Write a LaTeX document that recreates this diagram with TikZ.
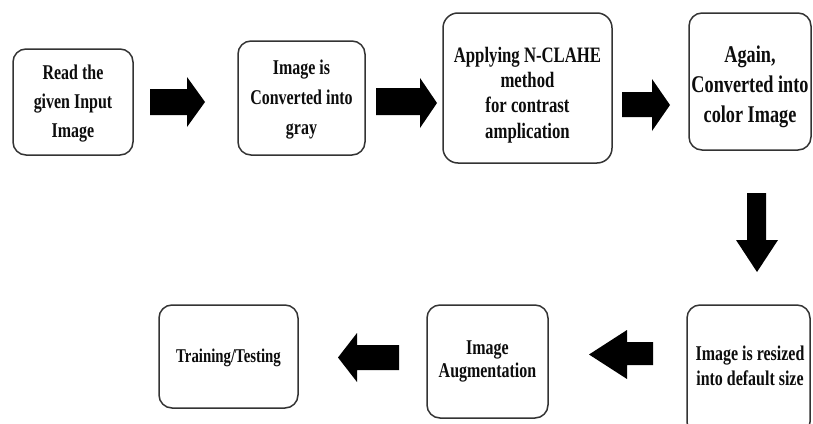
\documentclass[tikz,border=0pt]{standalone}
\usepackage{fontspec}
\setmainfont{Liberation Serif}[FakeStretch=0.76]
\begin{document}
\begin{tikzpicture}[x=1pt,y=-1pt,
  box/.style={draw=black!80, line width=1.5pt, rounded corners=13pt, fill=white, inner sep=0pt},
  txt/.style={align=center, text=black!95, inner sep=0pt},
  blk/.style={fill=black}]
\clip (0,0) rectangle (813,423);
\fill[white] (0,0) rectangle (813,423);
% boxes
\node[box, minimum width=120pt, minimum height=106pt] (b1) at (73,102) {};
\node[box, minimum width=127pt, minimum height=114pt] (b2) at (301.5,98) {};
\node[box, minimum width=169pt, minimum height=150pt, rounded corners=15pt] (b3) at (527.5,88) {};
\node[box, minimum width=122pt, minimum height=137pt] (b4) at (750,81.5) {};
\node[box, minimum width=123pt, minimum height=130pt] (b5) at (748.5,370) {};
\node[box, minimum width=121pt, minimum height=113pt] (b6) at (487.5,361.5) {};
\node[box, minimum width=139pt, minimum height=103pt] (b7) at (228.5,356.5) {};
% texts
\node[txt, font=\fontsize{21}{29}\selectfont\bfseries] (t1) at ([yshift=-2pt]b1.center) {Read the\\given Input\\Image};
\node[txt, font=\fontsize{21}{30}\selectfont\bfseries] (t2) at ([yshift=-2pt]b2.center) {Image is\\Converted into\\gray};
\node[txt, font=\fontsize{22}{25.3}\selectfont\bfseries] (t3) at ([yshift=-7pt]b3.center) {Applying N-CLAHE\\method\\for contrast\\amplication};
\node[txt, font=\fontsize{24}{30}\selectfont\bfseries] (t4) at ([yshift=-5.5pt]b4.center) {Again,\\Converted into\\color Image};
\node[txt, font=\fontsize{21}{25}\selectfont\bfseries] (t5) at (750,365.5) {Image is resized\\into default size};
\node[txt, font=\fontsize{21}{23}\selectfont\bfseries] (t6) at ([yshift=0pt]b6.center) {Image\\Augmentation};
\node[txt, font=\fontsize{19.5}{22}\selectfont\bfseries] (t7) at ([yshift=-1.5pt]b7.center) {Training/Testing};
% block arrows
\fill[blk] (150,89) -- (187,89) -- (187,77) -- (205,102) -- (187,127) -- (187,115) -- (150,115) -- cycle;
\fill[blk] (376,88) -- (420,88) -- (420,78) -- (437,103) -- (420,128) -- (420,115) -- (376,115) -- cycle;
\fill[blk] (622,92) -- (652,92) -- (652,79) -- (670,105) -- (652,131) -- (652,117) -- (622,117) -- cycle;
\fill[blk] (747,193) -- (747,240) -- (736,240) -- (757,272) -- (778,240) -- (766,240) -- (766,193) -- cycle;
\fill[blk] (653,342) -- (627,342) -- (627,330) -- (589,354.5) -- (627,379) -- (627,365) -- (653,365) -- cycle;
\fill[blk] (399,345) -- (357,345) -- (357,333) -- (338,357.5) -- (357,382) -- (357,370) -- (399,370) -- cycle;
\end{tikzpicture}
\end{document}
